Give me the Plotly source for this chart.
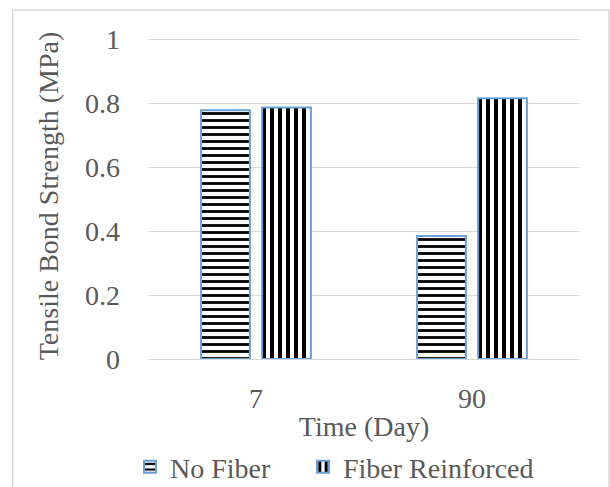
import plotly.graph_objects as go

categories = ["7", "90"]
no_fiber = [0.778, 0.385]
fiber_reinforced = [0.787, 0.816]
y_ticks = [0, 0.2, 0.4, 0.6, 0.8, 1]
y_tick_labels = ["0", "0.2", "0.4", "0.6", "0.8", "1"]

text_color = "#595959"
border_blue = "#6A9FD8"
grid_color = "#D9D9D9"
font_family = "Times New Roman, Liberation Serif, serif"
fs = 28

def f(size=fs):
    return dict(family=font_family, size=size, color=text_color)

fig = go.Figure()
fig.add_trace(go.Bar(
    x=categories, y=no_fiber, name="No Fiber", legend="legend",
    marker=dict(color="white",
                line=dict(color=border_blue, width=2),
                pattern=dict(shape="-", size=7, solidity=0.4,
                             fgcolor="black", bgcolor="white", fillmode="replace")),
))
fig.add_trace(go.Bar(
    x=categories, y=fiber_reinforced, name="Fiber Reinforced", legend="legend2",
    marker=dict(color="white",
                line=dict(color=border_blue, width=2),
                pattern=dict(shape="|", size=8, solidity=0.5,
                             fgcolor="black", bgcolor="white", fillmode="replace")),
))

leg_common = dict(orientation="h", xref="container", yref="container",
                  yanchor="middle", y=0.041, xanchor="left",
                  font=f(), itemwidth=30, bgcolor="rgba(0,0,0,0)")

fig.update_layout(
    width=610, height=487,
    margin=dict(l=148, r=30, t=32.6, b=128, autoexpand=False),
    paper_bgcolor="white", plot_bgcolor="white",
    font=f(),
    barmode="group", bargap=0.435, bargroupgap=0.2,
    showlegend=True,
    legend=dict(x=130 / 610, **leg_common),
    legend2=dict(x=303 / 610, **leg_common),
    xaxis=dict(showgrid=False, showline=True, linecolor=grid_color, linewidth=1,
               ticks="", tickfont=f(), ticklabelstandoff=14, automargin=False,
               title=dict(text="Time (Day)", font=f(), standoff=5)),
    yaxis=dict(range=[0, 1.02], tickvals=y_ticks, ticktext=y_tick_labels,
               showgrid=True, gridcolor=grid_color, gridwidth=1,
               zeroline=False, showline=False, ticks="", automargin=False,
               tickfont=f(), ticklabelstandoff=27,
               title=dict(text="Tensile Bond Strength (MPa)", font=f(), standoff=18)),
    shapes=[dict(type="rect", xref="paper", yref="paper",
                 x0=-0.3132, x1=1.067, y0=-0.6, y1=1.0708,
                 line=dict(color=grid_color, width=1.5), fillcolor="rgba(0,0,0,0)", layer="below")],
)

fig.write_html("out.html")
